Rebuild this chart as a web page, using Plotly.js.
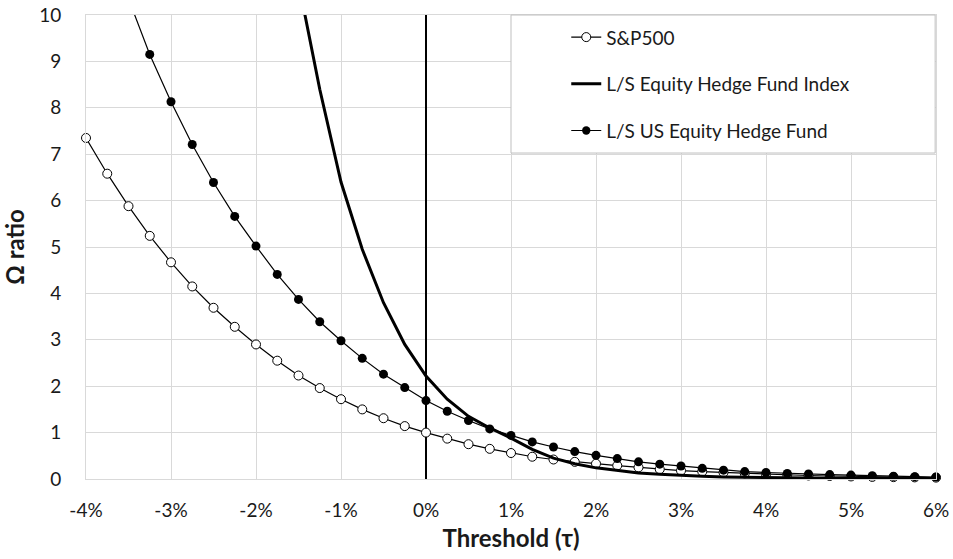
<!DOCTYPE html>
<html>
<head>
<meta charset="utf-8">
<script src="https://cdn.plot.ly/plotly-3.0.1.min.js"></script>
<style>
html,body{margin:0;padding:0;background:#fff;}
#chart{width:953px;height:559px;}
</style>
</head>
<body>
<div id="chart"></div>
<script>
// Thresholds (tau, in %)
const thresholds = [-4,-3.75,-3.5,-3.25,-3,-2.75,-2.5,-2.25,-2,-1.75,-1.5,-1.25,-1,-0.75,-0.5,-0.25,0,0.25,0.5,0.75,1,1.25,1.5,1.75,2,2.25,2.5,2.75,3,3.25,3.5,3.75,4,4.25,4.5,4.75,5,5.25,5.5,5.75,6];

const sp500 = [7.35,6.58,5.88,5.24,4.67,4.15,3.69,3.28,2.90,2.55,2.23,1.96,1.72,1.50,1.31,1.14,1.00,0.87,0.75,0.65,0.56,0.48,0.42,0.37,0.33,0.29,0.25,0.21,0.18,0.16,0.14,0.12,0.10,0.09,0.075,0.065,0.055,0.045,0.04,0.035,0.03];

const hedgeIndex = [null,null,null,null,null,null,null,null,null,null,10.7,8.4,6.4,4.95,3.8,2.9,2.22,1.72,1.35,1.1,0.88,0.64,0.45,0.33,0.24,0.18,0.13,0.10,0.075,0.06,0.045,0.035,0.03,0.025,0.02,0.018,0.015,0.012,0.01,0.009,0.008];

const usFund = [null,null,10.35,9.15,8.13,7.21,6.39,5.66,5.02,4.41,3.87,3.39,2.98,2.60,2.26,1.97,1.69,1.46,1.26,1.08,0.94,0.80,0.69,0.59,0.51,0.44,0.37,0.32,0.28,0.23,0.19,0.16,0.14,0.12,0.11,0.095,0.085,0.07,0.06,0.05,0.043];

const xTickVals = [-4,-3,-2,-1,0,1,2,3,4,5,6];
const xTickText = ['-4%','-3%','-2%','-1%','0%','1%','2%','3%','4%','5%','6%'];
const yTickVals = [0,1,2,3,4,5,6,7,8,9,10];

const seriesNames = ['S&P500','L/S Equity Hedge Fund Index','L/S US Equity Hedge Fund'];

const yMax = 10;
const mSize = 9;
const sizes = arr => arr.map(v => (v === null || v > yMax) ? 0 : mSize);

const traces = [
  {
    x: thresholds, y: sp500, name: seriesNames[0], type: 'scatter', mode: 'lines+markers',
    line: {color: '#000', width: 1.2},
    marker: {symbol: 'circle', size: sizes(sp500), opacity: 1, color: '#fff', line: {color: '#000', width: 1}},
    cliponaxis: false, legendgroup: 'a', connectgaps: false
  },
  {
    x: thresholds, y: hedgeIndex, name: seriesNames[1], type: 'scatter', mode: 'lines',
    line: {color: '#000', width: 3},
    legendgroup: 'b', connectgaps: false
  },
  {
    x: thresholds, y: usFund, name: seriesNames[2], type: 'scatter', mode: 'lines+markers',
    line: {color: '#000', width: 1.2},
    marker: {symbol: 'circle', size: sizes(usFund), opacity: 1, color: '#000', line: {color: '#000', width: 0}},
    cliponaxis: false, legendgroup: 'c', connectgaps: false
  }
];

const gridC = '#d9d9d9';
const fam = 'Lato, "Open Sans", sans-serif';
const layout = {
  width: 953, height: 559,
  margin: {l: 86, r: 17, t: 14.5, b: 80},
  paper_bgcolor: '#fff', plot_bgcolor: '#fff',
  font: {family: fam, size: 19, color: '#1a1a1a'},
  showlegend: true,
  xaxis: {
    range: [-4, 6], tickvals: xTickVals, ticktext: xTickText,
    showgrid: true, gridcolor: gridC, gridwidth: 1,
    showline: true, mirror: true, linecolor: gridC, linewidth: 1,
    zeroline: true, zerolinecolor: '#000', zerolinewidth: 1.3,
    ticks: '', ticklabelstandoff: 14,
    tickfont: {size: 19, color: '#1a1a1a'},
    title: {text: 'Threshold (τ)', font: {size: 24, color: '#1a1a1a', family: fam, weight: 'bold'}, standoff: 10}
  },
  yaxis: {
    range: [0, 10], tickvals: yTickVals,
    showgrid: true, gridcolor: gridC, gridwidth: 1,
    showline: true, mirror: true, linecolor: gridC, linewidth: 1,
    zeroline: false,
    ticks: '', ticklabelstandoff: 20,
    tickfont: {size: 19, color: '#1a1a1a'},
    title: {text: 'Ω ratio', font: {size: 24, color: '#1a1a1a', family: fam, weight: 'bold'}, standoff: 12}
  },
  legend: {
    x: 0.565, xanchor: 'left', y: 0.993, yanchor: 'top',
    bgcolor: 'rgba(0,0,0,0)', borderwidth: 0,
    traceorder: 'grouped', tracegroupgap: 19,
    font: {size: 19, color: '#1a1a1a'}
  },
  shapes: [
    {type: 'rect', xref: 'paper', yref: 'paper', x0: 0.5, x1: 0.999, y0: 0.7025, y1: 1,
     fillcolor: '#fff', line: {color: '#bfbfbf', width: 1}, layer: 'above'}
  ]
};

Plotly.newPlot('chart', traces, layout, {displayModeBar: false, staticPlot: true});
</script>
</body>
</html>
